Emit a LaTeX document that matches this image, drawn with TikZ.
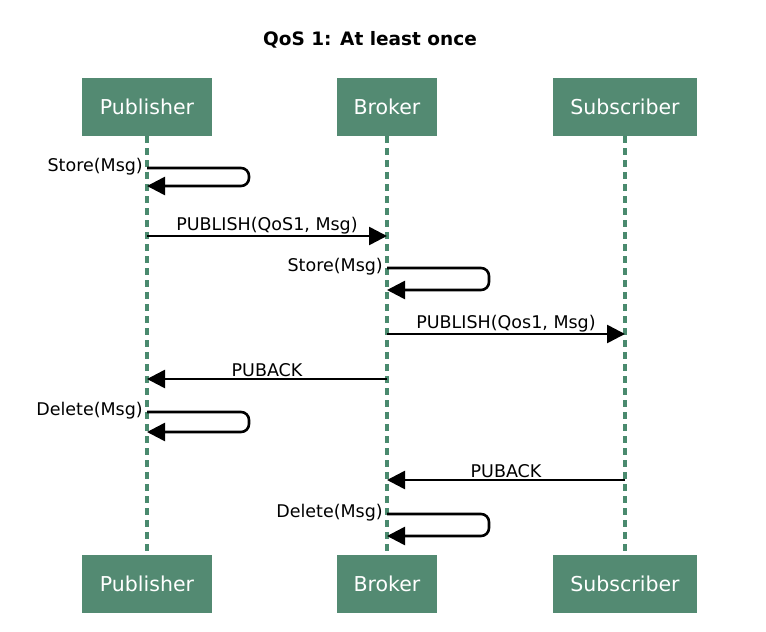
\documentclass[tikz,border=0pt]{standalone}
\usepackage{fontspec}
\setmainfont{DejaVu Sans}
\usetikzlibrary{arrows.meta}
\definecolor{boxg}{HTML}{538A72}
\definecolor{lineg}{HTML}{4A8A6E}
\begin{document}
\begin{tikzpicture}[x=1pt,y=-1pt,
  actor/.style={draw=none,fill=boxg,text=white,minimum height=58pt,font=\fontsize{20.5}{24}\selectfont},
  life/.style={draw=lineg,line width=3.6pt,dash pattern=on 7pt off 5pt},
  msg/.style={line width=2.6pt,-{Triangle[length=18pt,width=18pt]}},
  lbl/.style={font=\fontsize{17.5}{20}\selectfont,inner sep=1pt}]
\useasboundingbox (0,0) rectangle (766,632);
\node[font=\bfseries\fontsize{18.5}{22}\selectfont] (title) at (370,40) {QoS 1: At least once};
\node[actor,minimum width=130pt] (p1) at (147,107) {Publisher};
\node[actor,minimum width=100pt] (b1) at (387,107) {Broker};
\node[actor,minimum width=144pt] (s1) at (625,107) {Subscriber};
\node[actor,minimum width=130pt] (p2) at (147,584) {Publisher};
\node[actor,minimum width=100pt] (b2) at (387,584) {Broker};
\node[actor,minimum width=144pt] (s2) at (625,584) {Subscriber};
\draw[life] (p1.south) -- (p2.north);
\draw[life] (b1.south) -- (b2.north);
\draw[life] (s1.south) -- (s2.north);
\foreach \n/\x/\ya/\yb/\t in {a/147/168/186/Store(Msg),b/387/268/290/Store(Msg),c/147/412/432/Delete(Msg),d/387/514/536/Delete(Msg)}{
  \coordinate (\n s) at (\x,\ya);
  \coordinate (\n e) at (\x,\yb);
  \draw[msg,rounded corners=8pt] (\n s) -- ++(102,0) |- (\n e);
  \node[lbl,anchor=south east,yshift=-8pt,xshift=-3pt] at (\n s) {\t};
}
\coordinate (m1a) at (147,236); \coordinate (m1b) at (387,236);
\draw[msg] (m1a) -- node[lbl,above] {PUBLISH(QoS1, Msg)} (m1b);
\coordinate (m2a) at (387,334); \coordinate (m2b) at (625,334);
\draw[msg] (m2a) -- node[lbl,above] {PUBLISH(Qos1, Msg)} (m2b);
\coordinate (m3a) at (387,379); \coordinate (m3b) at (147,379);
\draw[msg] (m3a) -- node[lbl,above] {PUBACK} (m3b);
\coordinate (m4a) at (625,480); \coordinate (m4b) at (387,480);
\draw[msg] (m4a) -- node[lbl,above] {PUBACK} (m4b);
\end{tikzpicture}
\end{document}
